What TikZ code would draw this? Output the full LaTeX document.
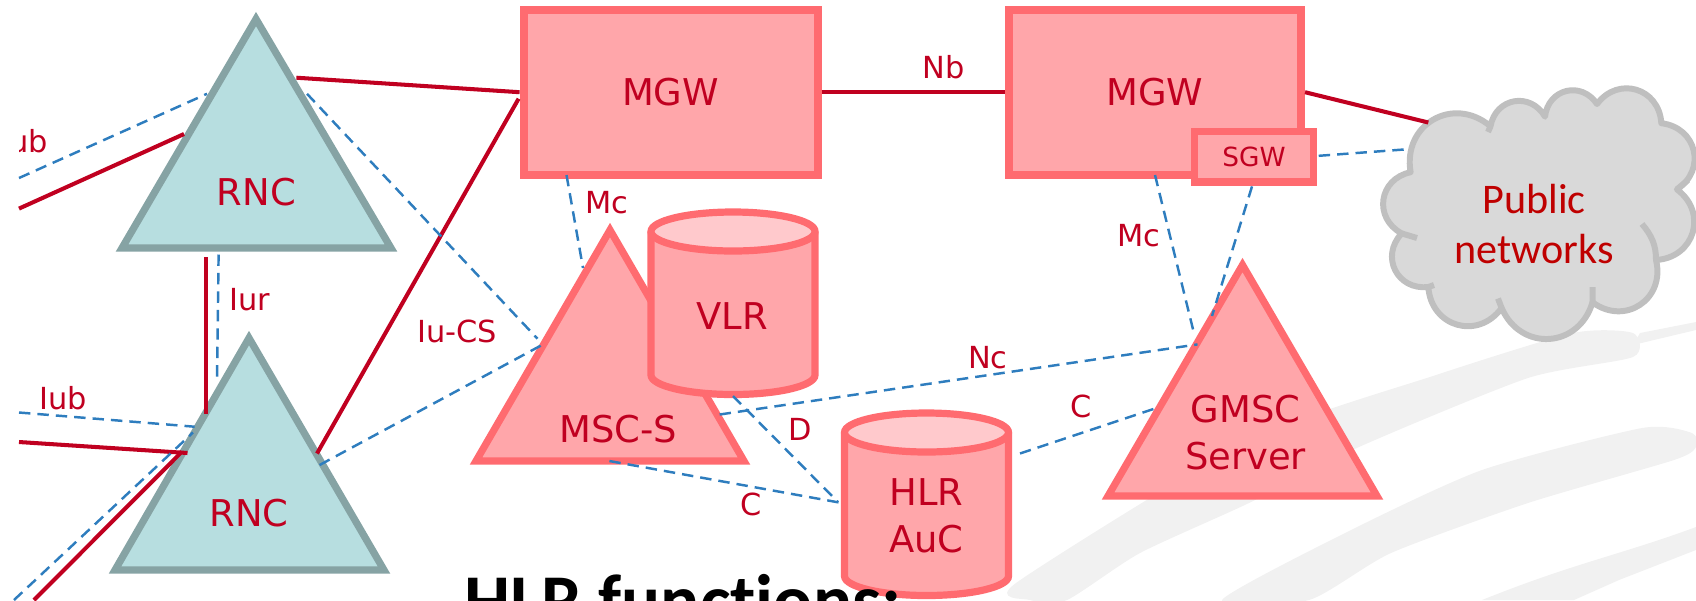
\documentclass[tikz,border=0pt]{standalone}
\usepackage{fontspec}
\setmainfont{DejaVu Sans}
\newfontfamily\calfont[Ligatures=NoCommon]{Carlito}
\definecolor{rncfill}{HTML}{B7DEE0}
\definecolor{rncline}{HTML}{86A3A4}
\definecolor{corefill}{HTML}{FFA6AA}
\definecolor{coreline}{HTML}{FF6B70}
\definecolor{coretop}{HTML}{FFC9CC}
\definecolor{linkred}{HTML}{C00020}
\definecolor{linkblue}{HTML}{2E7DBE}
\definecolor{cloudfill}{HTML}{D9D9D9}
\definecolor{cloudline}{HTML}{BFBFBF}
\definecolor{swoosh}{HTML}{F1F1F1}
\begin{document}
\begin{tikzpicture}
[x =0.02cm, y =0.02cm,
rnc/.style = {draw = rncline, fill = rncfill, line width = 4.1pt},
core/.style = {draw = coreline, fill = corefill, line width = 4.1pt},
gw/.style = {draw = coreline, fill = corefill, line width = 4.6pt, rectangle, text = linkred, font = \fontsize{21}{26}\selectfont},
netname/.style = {text = linkred, align = center, inner sep = 0pt, font = \fontsize{21}{26.6}\selectfont},
iftag/.style = {text = linkred, inner sep = 0pt, font = \fontsize{17.3}{20}\selectfont},
redlink/.style = {draw = linkred, line width = 2.3pt},
bluelink/.style = {draw = linkblue, line width = 1.4pt, dash pattern = on 6.5pt off 4pt},
bump/.style = {bend left = 70, looseness = 1.35},]

\useasboundingbox (0,0) rectangle (1696,-600);

\fill[swoosh] plot[smooth cycle, tension = 0.4] coordinates {(1016,-583) (1250,-440) (1436,-375) (1573,-333) (1633,-333) (1633,-357) (1528,-378) (1359,-447) (1249,-503) (1140,-553) (1067,-600) (1030,-600)};
\fill[swoosh] (1633,-345) -- (1696,-330) -- (1696,-322) -- (1640,-333) -- cycle;
\fill[swoosh] plot[smooth cycle, tension = 0.4] coordinates {(1222,-600) (1345,-533) (1482,-470) (1642,-428) (1692,-433) (1696,-447) (1674,-460) (1528,-503) (1391,-553) (1309,-600)};
\fill[swoosh] (1482,-600) .. controls (1574,-563) and (1620,-555) .. (1696,-527) -- (1696,-550) -- (1619,-580) -- (1574,-600) -- cycle;

\draw[rnc] (256,-19) -- (122,-248) -- (391,-248) -- cycle;
\draw[rnc] (249,-338) -- (115,-570) -- (384,-570) -- cycle;
\draw[core] (610,-230) -- (476,-461) -- (744,-461) -- cycle;
\draw[core] (1242.5,-265) -- (1108,-496) -- (1377,-496) -- cycle;

\foreach \cx/\ctop/\cbot in {733/231.5/375, 926.5/432.5/576}
{
\draw[core] ({\cx-82},-\ctop) -- ({\cx-82},-\cbot) arc[start angle = 180, end angle = 360, x radius = 82, y radius = 19.5] -- ({\cx+82},-\ctop);
\draw[core, fill = coretop] (\cx,-\ctop) ellipse [x radius = 82, y radius = 19.5];
}

\node (mgwA) at (670.6,-92.2)[gw, minimum width = 5.88cm, minimum height = 3.3cm] {MGW};
\node (mgwB) at (1155,-92.2)[gw, minimum width = 5.84cm, minimum height = 3.3cm] {MGW};
\node (sgw) at (1254,-156.7)[gw, line width = 4.1pt, minimum width = 2.38cm, minimum height = 1.01cm, font = \fontsize{15}{18}\selectfont] {SGW};

\draw[draw = cloudline, fill = cloudfill, line width = 3.4pt, line join = round]
(1410.6,-172.2) to[bump] (1490.5,-126.3) to[bump] (1545,-116.7) to[bump] (1597,-104)
to[bump] (1661.3,-123.2) to[bump] (1676.9,-189.4) to[bump] (1656,-260)
to[bump] (1592.5,-302.3) to[bump] (1501.6,-308) to[bump] (1428.3,-287)
to[bump] (1401.7,-233.4) to[bump] (1410.6,-172.2) -- cycle;
\draw[draw = cloudline, line width = 3.4pt]
(1642,-224) to[out = -50, in = 90] (1656,-260)
(1417,-238) -- (1401.7,-233.4)
(1434,-285) -- (1428.3,-287)
(1592.5,-287) -- (1592.5,-302.3)
(1498,-298.5) -- (1501.6,-308)
(1688,-180) -- (1676.9,-189.4)
(1490.5,-126.3) -- (1488,-132);

\coordinate (rncAne) at (296.4,-77.7);
\coordinate (rncAdash) at (307,-93.8);
\coordinate (rncAsw) at (184,-134);
\coordinate (rncAw) at (207,-93.8);
\coordinate (offA) at (19,-208.6);
\coordinate (offB) at (19,-178);
\coordinate (rncAb) at (206.4,-257);
\coordinate (rncBa) at (206.4,-414);
\coordinate (rncAd) at (218.6,-254.5);
\coordinate (rncBd) at (217,-382.7);
\coordinate (mgwAsw) at (518.6,-98.7);
\coordinate (rncBe) at (317,-453.5);
\coordinate (rncBf) at (319.6,-465);
\coordinate (mscW) at (543,-344.4);
\coordinate (mscV) at (537.5,-338.7);
\coordinate (offC) at (19,-412.5);
\coordinate (rncBw) at (194.6,-426.7);
\coordinate (offD) at (19,-442);
\coordinate (rncBn) at (187.5,-453);
\coordinate (offE) at (34,-600);
\coordinate (rncBm) at (182,-451.6);
\coordinate (offF) at (14,-600);
\coordinate (rncBk) at (193,-432.5);
\coordinate (mgwAb) at (566.5,-175);
\coordinate (mscN) at (583,-268);
\coordinate (mscE) at (719.6,-414.5);
\coordinate (gmscW) at (1197.5,-344.4);
\coordinate (vlrB) at (733,-396);
\coordinate (hlrA) at (838,-502);
\coordinate (mscB) at (609.4,-461);
\coordinate (hlrB) at (842,-503);
\coordinate (hlrE) at (1020,-453.5);
\coordinate (gmscL) at (1157.6,-407.6);
\coordinate (mgwBb) at (1155,-175);
\coordinate (gmscM) at (1194.4,-335);
\coordinate (sgwB) at (1252,-186.4);
\coordinate (gmscN) at (1212,-316);
\coordinate (cloudR) at (1428.3,-122.5);
\coordinate (sgwE) at (1318.7,-155.8);
\coordinate (cloudB) at (1410.6,-149);

\draw[redlink] (rncAne)--(mgwA.west);
\draw[redlink] (offA)--(rncAsw);
\draw[redlink] (rncAb)--(rncBa);
\draw[redlink] (rncBe)--(mgwAsw);
\draw[redlink] (offD)--(rncBn);
\draw[redlink] (offE)--(rncBm);
\draw[redlink] (mgwA.east)--(mgwB.west);
\draw[redlink] (mgwB.east)--(cloudR);

\draw[bluelink] (offB)--(rncAw);
\draw[bluelink] (rncAdash)--(mscV);
\draw[bluelink] (rncAd)--(rncBd);
\draw[bluelink] (rncBf)--(mscW);
\draw[bluelink] (offC)--(rncBw);
\draw[bluelink] (offF)--(rncBk);
\draw[bluelink] (mgwAb)--(mscN);
\draw[bluelink] (mscE)--(gmscW);
\draw[bluelink] (vlrB)--(hlrA);
\draw[bluelink] (mscB)--(hlrB);
\draw[bluelink] (hlrE)--(gmscL);
\draw[bluelink] (mgwBb)--(gmscM);
\draw[bluelink] (sgwB)--(gmscN);
\draw[bluelink] (sgwE)--(cloudB);

\node (rncA) at (256.4,-192)[netname] {RNC};
\node (rncB) at (249,-513)[netname] {RNC};
\node (msc) at (618.5,-428.6)[netname] {MSC-S};
\node (vlr) at (732,-316)[netname] {VLR};
\node (hlr) at (926.5,-516)[netname] {HLR\\AuC};
\node (gmsc) at (1245.5,-432.5)[netname] {GMSC\\Server};
\node (cloud) at (1534,-224)[netname, text = red!75!black, font = \calfont\fontsize{24}{29}\selectfont] {Public\\networks};

\begin{scope}
\clip (19,0) rectangle (200,-300);
\node (iubA) at (24,-141)[iftag] {Iub};
\end{scope}
\node (iubB) at (63.5,-398)[iftag] {Iub};
\node (iur) at (250,-300)[iftag] {Iur};
\node (iucs) at (457,-331)[iftag] {Iu-CS};
\node (nb) at (944,-67)[iftag] {Nb};
\node (mcA) at (607,-203)[iftag] {Mc};
\node (mcB) at (1138.5,-235.5)[iftag] {Mc};
\node (nc) at (987.8,-358)[iftag] {Nc};
\node (dd) at (800,-429.4)[iftag] {D};
\node (cA) at (751,-504)[iftag] {C};
\node (cB) at (1081,-406.4)[iftag] {C};

\node (title) at (464,-625)[anchor = base west, inner sep = 0pt, font = \calfont\bfseries\fontsize{41.5}{50}\selectfont] {HLR functions:};
\end{tikzpicture}
\end{document}
